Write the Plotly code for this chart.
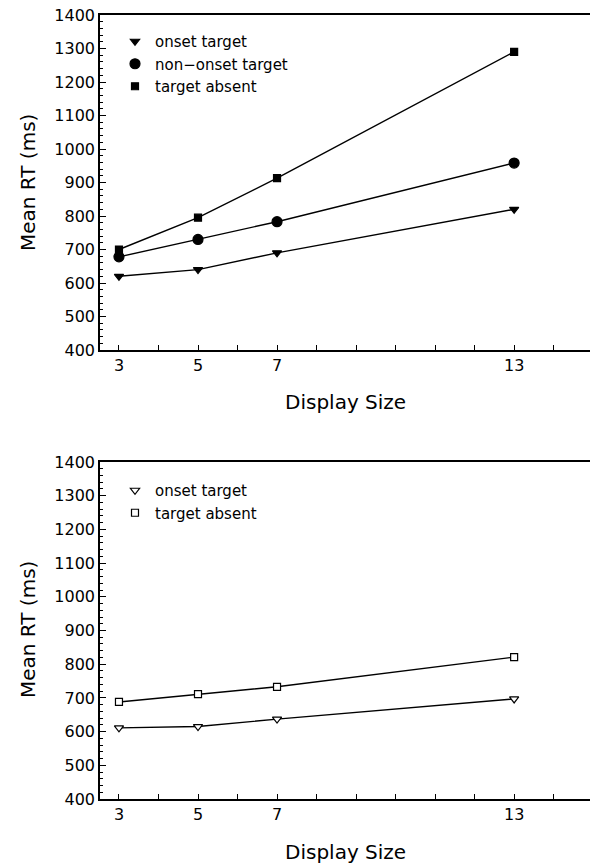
import plotly.graph_objects as go

display_size = [3, 5, 7, 13]

# Top panel
top_onset = [620, 640, 690, 820]
top_nononset = [678, 730, 783, 958]
top_absent = [700, 795, 913, 1290]

# Bottom panel
bot_onset = [611, 615, 637, 697]
bot_absent = [688, 711, 733, 821]

x_tickvals = list(range(3, 15))
x_ticktext = ["3", "", "5", "", "7", "", "", "", "", "", "13", ""]

W, H = 590, 864
FONT = "DejaVu Sans"
BLK = "black"

fig = go.Figure()

def add_series(x, y, symbol, size, xa, ya, name, legend, filled=True):
    mk = dict(symbol=symbol, size=size, color=BLK if filled else "white",
              line=dict(color=BLK, width=1.2))
    fig.add_trace(go.Scatter(x=x, y=y, mode="lines+markers", xaxis=xa, yaxis=ya,
                             line=dict(color=BLK, width=1.4), marker=mk,
                             showlegend=False, name=name))
    fig.add_trace(go.Scatter(x=[None], y=[None], mode="markers", xaxis=xa, yaxis=ya,
                             marker=mk, name=name, legend=legend, showlegend=True))

add_series(display_size, top_onset, "triangle-down", 8, "x", "y", "onset target", "legend")
add_series(display_size, top_nononset, "circle", 10, "x", "y", "non\u2212onset target", "legend")
add_series(display_size, top_absent, "square", 7, "x", "y", "target absent", "legend")

add_series(display_size, bot_onset, "triangle-down", 8, "x2", "y2", "onset target", "legend2", filled=False)
add_series(display_size, bot_absent, "square", 7, "x2", "y2", "target absent", "legend2", filled=False)

def py(px):
    return 1 - px / H

xdom = [100 / W, 1.0]
top_dom = [py(350), py(15)]
bot_dom = [py(799), py(462)]

xaxis_common = dict(range=[2.52, 14.92], tickvals=x_tickvals, ticktext=x_ticktext,
                    ticks="inside", ticklen=5, tickwidth=1.2, tickcolor=BLK,
                    showline=True, linecolor=BLK, linewidth=1.6, mirror=True,
                    showgrid=False, zeroline=False, domain=xdom, automargin=False,
                    tickfont=dict(family=FONT, size=16, color=BLK))
yaxis_common = dict(range=[400, 1400], dtick=100, ticks="inside", ticklen=6, tickwidth=1.2,
                    tickcolor=BLK, showline=True, linecolor=BLK, linewidth=1.6,
                    showgrid=False, zeroline=False, automargin=False,
                    minor=dict(dtick=20, ticks="inside", ticklen=3, tickcolor=BLK, showgrid=False),
                    tickfont=dict(family=FONT, size=16, color=BLK))

fig.update_layout(
    template="none",
    width=W, height=H,
    margin=dict(l=0, r=0, t=0, b=0, autoexpand=False),
    paper_bgcolor="white", plot_bgcolor="white",
    font=dict(family=FONT, color=BLK),
    xaxis=dict(**xaxis_common, anchor="y"),
    yaxis=dict(**yaxis_common, domain=top_dom, anchor="x"),
    xaxis2=dict(**xaxis_common, anchor="y2"),
    yaxis2=dict(**yaxis_common, domain=bot_dom, anchor="x2"),
    legend=dict(x=115 / W, y=py(25), xanchor="left", yanchor="top",
                bgcolor="rgba(0,0,0,0)", font=dict(family=FONT, size=15, color=BLK),
                itemwidth=30, tracegroupgap=0),
    legend2=dict(x=115 / W, y=py(474), xanchor="left", yanchor="top",
                 bgcolor="rgba(0,0,0,0)", font=dict(family=FONT, size=15, color=BLK),
                 itemwidth=30, tracegroupgap=0),
    showlegend=True,
)

annos = [
    dict(text="Mean RT (ms)", x=28 / W, y=py(183), textangle=-90),
    dict(text="Display Size", x=345 / W, y=py(402)),
    dict(text="Mean RT (ms)", x=28 / W, y=py(630), textangle=-90),
    dict(text="Display Size", x=345 / W, y=py(852)),
]
for a in annos:
    fig.add_annotation(xref="paper", yref="paper", showarrow=False,
                       xanchor="center", yanchor="middle",
                       font=dict(family=FONT, size=20, color=BLK), **a)

fig.write_html("out.html", config={"displayModeBar": False},
               post_script="document.body.style.margin='0';document.body.style.overflow='hidden';")
